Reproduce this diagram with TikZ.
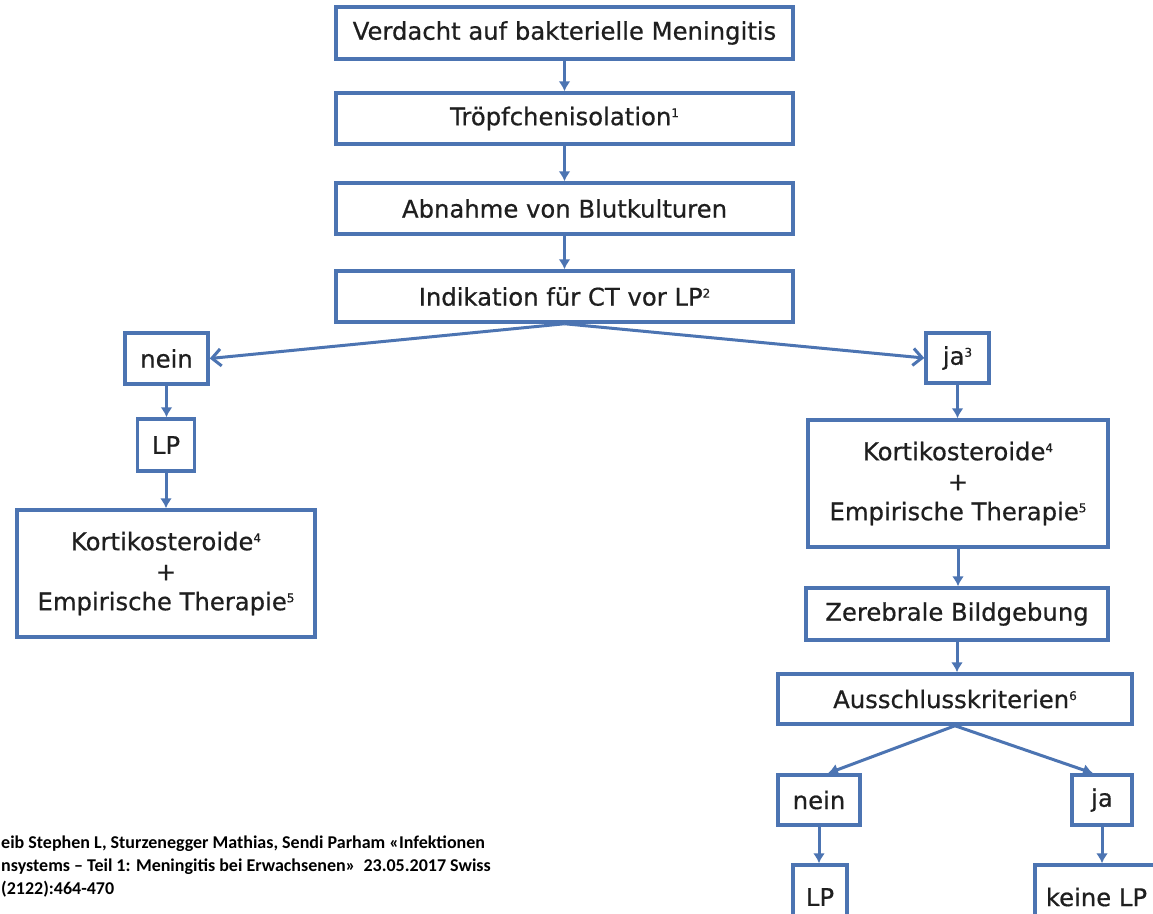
\documentclass[tikz,border=0pt]{standalone}
\usepackage{fontspec}
\setmainfont{DejaVu Sans}
\newfontfamily\boxfont{DejaVu Sans}[FakeBold=0.6]
\newfontfamily\citefont{Carlito}
\usetikzlibrary{arrows.meta}
\definecolor{lineblue}{RGB}{76,116,178}
\newcommand{\sups}[1]{\raisebox{8pt}{\fontsize{12}{12}\selectfont #1}}
\tikzset{
  box/.style={draw=lineblue, line width=3.5pt, fill=white, inner sep=0pt, align=center,
    font=\boxfont\fontsize{24.3}{30}\selectfont, text=black!88},
  varrow/.style={draw=lineblue, line width=3pt, -{Latex[length=10pt,width=12pt]}},
  barrow/.style={draw=lineblue, line width=3pt, -{Straight Barb[length=9pt,width=17pt,line width=3pt]}},
  citetext/.style={anchor=base west, inner sep=0pt, font=\citefont\bfseries\fontsize{18}{23}\selectfont}
}
\begin{document}
\begin{tikzpicture}[x=1pt,y=-1pt]
\useasboundingbox (0,0) rectangle (1153,913);
\clip (0,0) rectangle (1153,913);
\fill[white] (0,0) rectangle (1153,913);

\node[box, minimum width=457pt, minimum height=52pt] (b1) at (564.5,33) {Verdacht auf bakterielle Meningitis};
\node[box, minimum width=457pt, minimum height=51pt] (b2) at (564.5,118.5) {Tröpfchenisolation\sups{1}};
\node[box, minimum width=457pt, minimum height=51pt] (b3) at (564.5,208.5) {Abnahme von Blutkulturen};
\node[box, minimum width=457pt, minimum height=51pt] (b4) at (564.5,296.5) {Indikation für CT vor LP\sups{2}};

\node[box, minimum width=83pt, minimum height=51pt] (nein1) at (166.5,358.5) {nein};
\node[box, minimum width=57pt, minimum height=52pt] (lp1) at (166,445) {LP};
\node[box, minimum width=298pt, minimum height=127pt] (k1) at (166,573.5) {Kortikosteroide\sups{4}\\+\\Empirische Therapie\sups{5}};

\node[box, minimum width=63pt, minimum height=50pt] (ja3) at (957.5,358) {ja\sups{3}};
\node[box, minimum width=300pt, minimum height=127pt] (k2) at (958,483.5) {Kortikosteroide\sups{4}\\+\\Empirische Therapie\sups{5}};
\node[box, minimum width=302pt, minimum height=52pt] (zb) at (957,614) {Zerebrale Bildgebung};
\node[box, minimum width=354pt, minimum height=50pt] (aus) at (955,699) {Ausschlusskriterien\sups{6}};
\node[box, minimum width=82pt, minimum height=50pt] (nein2) at (819,800) {nein};
\node[box, minimum width=60pt, minimum height=50pt] (ja2) at (1102,800) {ja};
\node[box, minimum width=54pt, minimum height=64pt] (lp2) at (820,897) {LP};
\node[box, minimum width=123pt, minimum height=64pt] (keine) at (1096.5,897) {keine LP};

\draw[varrow] (b1.south) -- (b2.north);
\draw[varrow] (b2.south) -- (b3.north);
\draw[varrow] (b3.south) -- (b4.north);
\draw[barrow] (b4.south) -- (nein1.east);
\draw[barrow] (b4.south) -- (ja3.west);
\draw[varrow] (nein1.south) -- (nein1.south |- lp1.north);
\draw[varrow] (lp1.south) -- (lp1.south |- k1.north);
\draw[varrow] (ja3.south) -- (ja3.south |- k2.north);
\draw[varrow] (k2.south) -- (k2.south |- zb.north);
\draw[varrow] (zb.south) -- (zb.south |- aus.north);
\draw[varrow] (aus.south) -- ([xshift=9pt]nein2.north);
\draw[varrow] (aus.south) -- ([xshift=-9pt]ja2.north);
\draw[varrow] (nein2.south) -- (nein2.south |- lp2.north);
\draw[varrow] (ja2.south) -- (ja2.south |- keine.north);

\node[citetext] (c1) at (1,848) {eib Stephen L, Sturzenegger Mathias, Sendi Parham «Infektionen};
\node[citetext] (c2) at (1,871) {nsystems – Teil 1: Meningitis bei Erwachsenen»\ \ 23.05.2017 Swiss};
\node[citetext] (c3) at (1,894) {(2122):464-470};
\end{tikzpicture}
\end{document}
